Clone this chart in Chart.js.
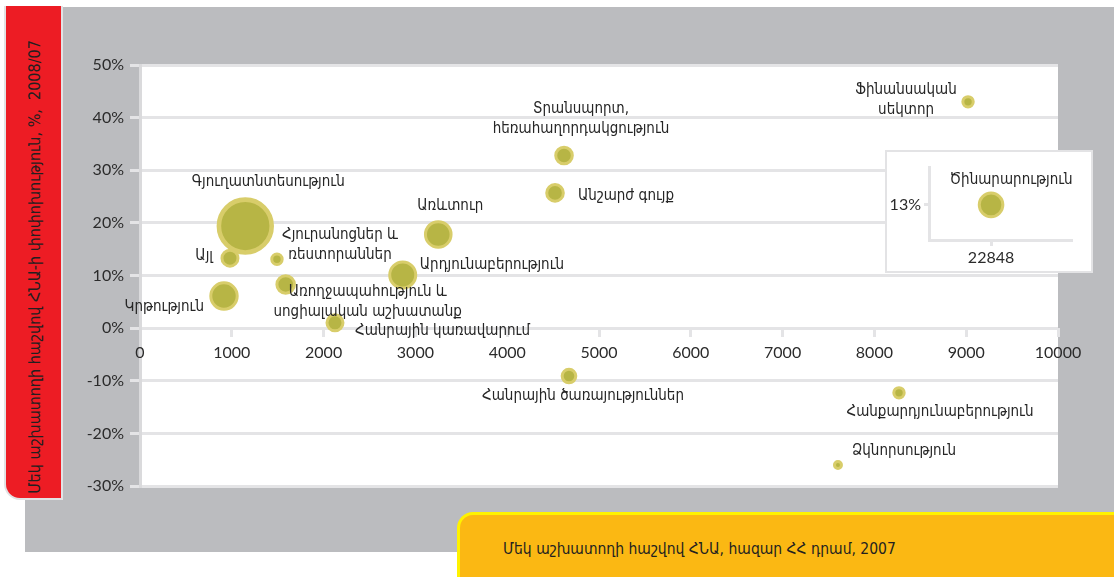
<!DOCTYPE html>
<html lang="hy">
<head>
<meta charset="utf-8">
<script src="https://cdn.jsdelivr.net/npm/chart.js@4.4.1/dist/chart.umd.min.js"></script>
<style>
  html, body { margin: 0; padding: 0; background: #ffffff; width: 1114px; height: 577px; overflow: hidden; }
  #gray { position: absolute; left: 25px; top: 7px; width: 1089px; height: 545px; background: #bbbcbf; }
  #ytitle { position: absolute; left: 4px; top: 6px; width: 55px; height: 492px; background: #ed1c24;
            border: 2px solid #e2e2e4; border-top: none; border-bottom-left-radius: 16px; }
  #ytitle span { position: absolute; left: 50%; top: 50%; transform: translate(-50%, -50%) translateY(15px) rotate(-90deg);
            white-space: nowrap; font: 16px "DejaVu Sans Condensed", "DejaVu Sans", sans-serif; color: #231f20; }
  #xtitle { position: absolute; left: 457px; top: 512px; width: 660px; height: 70px; background: #fbb813;
            border-top: 3px solid #fff200; border-left: 3px solid #fff200; border-top-left-radius: 16px; box-sizing: border-box; }
  #xtitle span { position: absolute; left: 43px; top: 25px; white-space: nowrap;
            font: 15.5px "DejaVu Sans Condensed", "DejaVu Sans", sans-serif; color: #231f20; }
  #main { position: absolute; left: 0; top: 0; }
  #insetBox { position: absolute; left: 885px; top: 150px; width: 208px; height: 123px; box-sizing: border-box;
            background: #ffffff; border: 2px solid #e3e3e5; }
  #inset { position: absolute; left: 0; top: 0; }
</style>
</head>
<body>
<div id="gray"></div>
<div id="ytitle"><span>Մեկ աշխատողի հաշվով ՀՆԱ-ի փոփոխություն, %,&nbsp; 2008/07</span></div>
<div id="xtitle"><span>Մեկ աշխատողի հաշվով ՀՆԱ, հազար ՀՀ դրամ, 2007</span></div>
<canvas id="main" width="1114" height="577"></canvas>
<div id="insetBox"><canvas id="inset" width="204" height="119"></canvas></div>
<script>
// ---------- DATA ----------
const sectors = [
  'Գյուղատնտեսություն', 'Այլ', 'Հյուրանոցներ և ռեստորաններ', 'Կրթություն',
  'Առողջապահություն և սոցիալական աշխատանք', 'Հանրային կառավարում', 'Արդյունաբերություն',
  'Առևտուր', 'Տրանսպորտ, հեռահաղորդակցություն', 'Անշարժ գույք', 'Ֆինանսական սեկտոր',
  'Հանրային ծառայություններ', 'Հանքարդյունաբերություն', 'Ձկնորսություն'
];
const gdpPerWorker = [1147, 980, 1492, 915, 1587, 2124, 2862, 3249, 4619, 4521, 9020, 4673, 8268, 7603];
const gdpChange    = [19.4, 13.3, 13.1, 6.1, 8.3, 1.0, 10.1, 17.8, 32.8, 25.7, 43.0, -9.1, -12.3, -26.0];
const bubbleSize   = [28.7, 9.5, 6.7, 14.7, 10.3, 9.5, 14.5, 14.3, 9.8, 9.8, 6.7, 8.3, 6.7, 5.0];

const insetSector = ['Ծինարարություն'];
const insetGdpPerWorker = [22848];
const insetGdpChange = [13];
const insetBubbleSize = [13.3];

const xTicks = [0, 1000, 2000, 3000, 4000, 5000, 6000, 7000, 8000, 9000, 10000];
const yTicks = [-30, -20, -10, 0, 10, 20, 30, 40, 50];

// ---------- LABEL PLACEMENT (pixels relative to bubble centre) ----------
const labelLayout = [
  { lines: ['Գյուղատնտեսություն'], dx: 23, dy: -44, align: 'center' },
  { lines: ['Այլ'], dx: -17, dy: -2, align: 'right' },
  { lines: ['Հյուրանոցներ և', 'ռեստորաններ'], dx: 63, dy: -24, align: 'center' },
  { lines: ['Կրթություն'], dx: -20, dy: 11, align: 'right' },
  { lines: ['Առողջապահություն և', 'սոցիալական աշխատանք'], dx: 82, dy: 8, align: 'center' },
  { lines: ['Հանրային կառավարում'], dx: 20, dy: 8, align: 'left' },
  { lines: ['Արդյունաբերություն'], dx: 17, dy: -10, align: 'left' },
  { lines: ['Առևտուր'], dx: 12, dy: -28, align: 'center' },
  { lines: ['Տրանսպորտ,', 'հեռահաղորդակցություն'], dx: 17, dy: -46, align: 'center' },
  { lines: ['Անշարժ գույք'], dx: 23, dy: 3, align: 'left' },
  { lines: ['Ֆինանսական', 'սեկտոր'], dx: -62, dy: -12, align: 'center' },
  { lines: ['Հանրային ծառայություններ'], dx: 14, dy: 20, align: 'center' },
  { lines: ['Հանքարդյունաբերություն'], dx: 41, dy: 19, align: 'center' },
  { lines: ['Ձկնորսություն'], dx: 14, dy: -14, align: 'left' }
];
const insetLabelLayout = [ { lines: ['Ծինարարություն'], dx: 20, dy: -25, align: 'center' } ];

// ---------- STYLE ----------
const BUBBLE_FILL = '#b7b545';
const BUBBLE_RING = '#d8cd6a';
const GRID = '#e4e4e6';
const TICK_FONT = { family: 'Lato, "Open Sans", sans-serif', size: 16 };
const LABEL_FONT = '15px "DejaVu Sans Condensed", "DejaVu Sans", sans-serif';
const ringWidth = s => Math.max(3, s * 0.16);

function buildPoints(xs, ys, sizes) {
  return xs.map((x, i) => ({ x: x, y: ys[i], r: sizes[i] - ringWidth(sizes[i]) / 2 }));
}

const whiteArea = {
  id: 'whiteArea',
  beforeDraw(chart) {
    const a = chart.chartArea, c = chart.ctx;
    c.save(); c.fillStyle = '#ffffff';
    c.fillRect(a.left, a.top, a.right - a.left, a.bottom - a.top);
    c.restore();
  }
};

function labelPlugin(layouts) {
  return {
    id: 'bubbleLabels',
    afterDatasetsDraw(chart) {
      const c = chart.ctx;
      const meta = chart.getDatasetMeta(0);
      c.save();
      c.font = LABEL_FONT;
      c.fillStyle = '#262626';
      c.textBaseline = 'middle';
      meta.data.forEach((el, i) => {
        const L = layouts[i];
        if (!L) return;
        c.textAlign = L.align;
        L.lines.forEach((t, k) => c.fillText(t, el.x + L.dx, el.y + L.dy + k * 20));
      });
      c.restore();
    }
  };
}

new Chart(document.getElementById('main'), {
  type: 'bubble',
  data: {
    datasets: [{
      label: 'ՀՆԱ',
      data: buildPoints(gdpPerWorker, gdpChange, bubbleSize),
      backgroundColor: BUBBLE_FILL,
      borderColor: BUBBLE_RING,
      borderWidth: ctx => ringWidth(bubbleSize[ctx.dataIndex] || 5),
      clip: false
    }]
  },
  options: {
    responsive: false,
    animation: false,
    events: [],
    layout: { padding: { left: 0, top: 65, right: 56, bottom: 91 } },
    plugins: { legend: { display: false }, tooltip: { enabled: false } },
    scales: {
      x: {
        type: 'linear',
        position: { y: 0 },
        min: 0, max: 10000,
        afterBuildTicks: s => { s.ticks = xTicks.map(v => ({ value: v })); },
        ticks: { color: '#2b2b2b', font: TICK_FONT, padding: 6, maxRotation: 0, autoSkip: false, z: 2,
                 callback: v => String(v) },
        grid: { drawOnChartArea: false, drawTicks: true, tickLength: 9, tickColor: GRID, tickWidth: 3 },
        border: { display: false }
      },
      y: {
        type: 'linear',
        min: -30, max: 50,
        afterBuildTicks: s => { s.ticks = yTicks.map(v => ({ value: v })); },
        afterFit: s => { s.width = 140; },
        ticks: { color: '#2b2b2b', font: TICK_FONT, padding: 6, callback: v => v + '%' },
        grid: { color: GRID, lineWidth: 3, tickLength: 10, drawTicks: true },
        border: { color: '#dadadc', width: 3 }
      }
    }
  },
  plugins: [whiteArea, labelPlugin(labelLayout)]
});

new Chart(document.getElementById('inset'), {
  type: 'bubble',
  data: {
    datasets: [{
      label: 'Ծինարարություն',
      data: buildPoints(insetGdpPerWorker, insetGdpChange, insetBubbleSize),
      backgroundColor: BUBBLE_FILL,
      borderColor: BUBBLE_RING,
      borderWidth: ringWidth(insetBubbleSize[0]),
      clip: false
    }]
  },
  options: {
    responsive: false,
    animation: false,
    events: [],
    layout: { padding: { left: 0, top: 15, right: 20, bottom: 0 } },
    plugins: { legend: { display: false }, tooltip: { enabled: false } },
    scales: {
      x: {
        type: 'linear', position: 'bottom',
        min: 20000, max: 26517,
        afterBuildTicks: s => { s.ticks = insetGdpPerWorker.map(v => ({ value: v })); },
        afterFit: s => { s.height = 31; },
        ticks: { color: '#2b2b2b', font: TICK_FONT, padding: 2, callback: v => String(v) },
        grid: { drawOnChartArea: false, tickLength: 6, color: GRID, lineWidth: 3 },
        border: { color: GRID, width: 3 }
      },
      y: {
        type: 'linear', position: 'left',
        min: 0, max: 27,
        afterBuildTicks: s => { s.ticks = insetGdpChange.map(v => ({ value: v })); },
        afterFit: s => { s.width = 42; },
        ticks: { color: '#2b2b2b', font: TICK_FONT, padding: 3, callback: v => v + '%' },
        grid: { drawOnChartArea: false, tickLength: 5, color: GRID, lineWidth: 3 },
        border: { color: GRID, width: 3 }
      }
    }
  },
  plugins: [labelPlugin(insetLabelLayout)]
});
</script>
</body>
</html>
